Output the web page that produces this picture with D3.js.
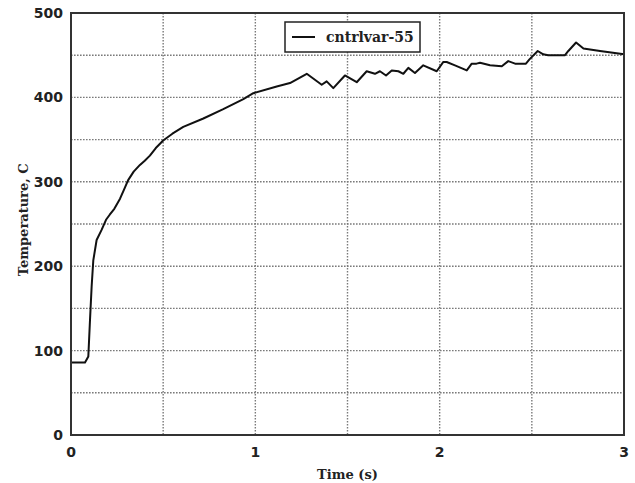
<!DOCTYPE html>
<html>
<head>
<meta charset="utf-8">
<script src="https://cdn.jsdelivr.net/npm/d3@7"></script>
<style>
  body { margin: 0; background: #fff; }
  svg { display: block; }
</style>
</head>
<body>
<svg id="chart" width="635" height="483"></svg>
<script>
// Values
var timeS = [0, 0.076, 0.094, 0.103, 0.112, 0.121, 0.139, 0.166, 0.19, 0.21, 0.235, 0.266, 0.29, 0.31,
    0.34, 0.374, 0.4, 0.428, 0.46, 0.5, 0.55,
    0.609, 0.718, 0.826, 0.935, 0.989, 1.116, 1.188, 1.279, 1.36, 1.387, 1.423, 1.486, 1.55, 1.604,
    1.649, 1.676, 1.709, 1.74, 1.776, 1.803, 1.83, 1.866, 1.911, 1.984, 2.02, 2.038, 2.083, 2.147,
    2.174, 2.2, 2.219, 2.273, 2.337, 2.372, 2.409, 2.468, 2.487, 2.532, 2.562, 2.589, 2.68, 2.698,
    2.74, 2.78, 2.87, 3.0]
var tempC = [86, 86, 93, 136, 176, 207, 231, 243, 255, 261, 268, 280, 292, 302,
    312, 320, 325, 331, 340, 349, 357,
    365, 375, 386, 398, 405, 413, 417, 428, 415, 419, 411, 426, 418, 431,
    428, 431, 426, 432, 431, 428, 435, 429, 438, 431, 442, 442, 438, 432,
    440, 440, 441, 438, 437, 443, 440, 440, 445, 455, 451, 450, 450, 455,
    465, 458, 455, 451]
var xTicks = [0, 1, 2, 3]
var yTicks = [0, 100, 200, 300, 400, 500]
var xGrid = [0.5, 1, 1.5, 2, 2.5]
var yGrid = [50, 100, 150, 200, 250, 300, 350, 400, 450]
var seriesName = 'cntrlvar-55'

var svg = d3.select('#chart')
var plotLeft = 71, plotRight = 624, plotTop = 13, plotBottom = 435

var xScale = d3.scaleLinear().domain([0, 3]).range([plotLeft, plotRight])
var yScale = d3.scaleLinear().domain([0, 500]).range([plotBottom, plotTop])

// grid
var grid = svg.append('g')
    .attr('stroke', '#7a7a7a')
    .attr('stroke-width', 1.4)
    .attr('stroke-dasharray', '1.6,1.4')

grid.selectAll('line.gx')
    .data(xGrid)
    .enter()
    .append('line')
    .attr('x1', d => xScale(d))
    .attr('x2', d => xScale(d))
    .attr('y1', plotTop)
    .attr('y2', plotBottom)

grid.selectAll('line.gy')
    .data(yGrid)
    .enter()
    .append('line')
    .attr('x1', plotLeft)
    .attr('x2', plotRight)
    .attr('y1', d => yScale(d))
    .attr('y2', d => yScale(d))

// curve
var line = d3.line()
    .x((d, i) => xScale(timeS[i]))
    .y(d => yScale(d))

svg.append('path')
    .datum(tempC)
    .attr('d', line)
    .attr('fill', 'none')
    .attr('stroke', '#111')
    .attr('stroke-width', 2)
    .attr('stroke-linejoin', 'round')

// frame
svg.append('rect')
    .attr('x', plotLeft)
    .attr('y', plotTop)
    .attr('width', plotRight - plotLeft)
    .attr('height', plotBottom - plotTop)
    .attr('fill', 'none')
    .attr('stroke', '#333')
    .attr('stroke-width', 2)

// tick labels
svg.append('g')
    .selectAll('text')
    .data(yTicks)
    .enter()
    .append('text')
    .attr('x', plotLeft - 8)
    .attr('y', d => yScale(d))
    .attr('dy', '0.36em')
    .attr('text-anchor', 'end')
    .style('font', 'bold 14px "DejaVu Sans", sans-serif')
    .attr('fill', '#222')
    .text(d => d)

svg.append('g')
    .selectAll('text')
    .data(xTicks)
    .enter()
    .append('text')
    .attr('x', d => xScale(d))
    .attr('y', plotBottom + 17)
    .attr('dy', '0.36em')
    .attr('text-anchor', 'middle')
    .style('font', 'bold 14px "DejaVu Sans", sans-serif')
    .attr('fill', '#222')
    .text(d => d)

// axis titles
svg.append('text')
    .attr('x', xScale(1.5))
    .attr('y', 474)
    .attr('dy', '0.36em')
    .attr('text-anchor', 'middle')
    .style('font', 'bold 13px "DejaVu Serif", serif')
    .attr('fill', '#222')
    .text('Time (s)')

svg.append('text')
    .attr('transform', `translate(23, ${yScale(255)}) rotate(-90)`)
    .attr('dy', '0.36em')
    .attr('text-anchor', 'middle')
    .style('font', 'bold 13px "DejaVu Serif", serif')
    .attr('fill', '#222')
    .text('Temperature, C')

// legend
var legend = svg.append('g').attr('transform', 'translate(285, 22)')
legend.append('rect')
    .attr('width', 135)
    .attr('height', 30)
    .attr('fill', '#fff')
    .attr('stroke', '#222')
    .attr('stroke-width', 1.5)
legend.append('line')
    .attr('x1', 7)
    .attr('x2', 30)
    .attr('y1', 15)
    .attr('y2', 15)
    .attr('stroke', '#111')
    .attr('stroke-width', 2)
legend.append('text')
    .attr('x', 41)
    .attr('y', 15)
    .attr('dy', '0.36em')
    .style('font', 'bold 14px "DejaVu Serif", serif')
    .attr('fill', '#222')
    .text(seriesName)
</script>
</body>
</html>
